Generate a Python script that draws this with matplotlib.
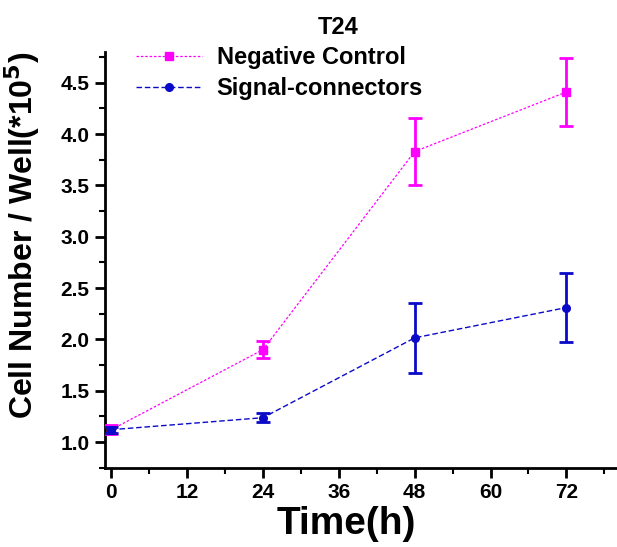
import matplotlib
matplotlib.use("Agg")
import matplotlib.pyplot as plt
from matplotlib.ticker import MultipleLocator
from matplotlib.lines import Line2D

# Дані з графіка
hours = [0, 24, 48, 72]
negControl = [1.12, 1.90, 3.83, 4.41]
negControlErr = [0.045, 0.08, 0.33, 0.33]
signalConn = [1.12, 1.237, 2.015, 2.31]
signalConnErr = [0.03, 0.045, 0.34, 0.335]
xTicks = [0, 12, 24, 36, 48, 60, 72]
yTicks = [1.0, 1.5, 2.0, 2.5, 3.0, 3.5, 4.0, 4.5]

magenta = "#FF00FF"
blue = "#0A0AC8"

plt.rcParams['font.family'] = ['Liberation Sans', 'DejaVu Sans']
plt.rcParams['font.weight'] = 'bold'
plt.rcParams['mathtext.default'] = 'bf'

fig = plt.figure(figsize=(6.17, 5.47), dpi=100)
ax = fig.add_axes([0.170, 0.145, 0.830, 0.760])

ncStyle = dict(color=magenta, marker='s', markersize=5.5, linestyle=(0, (2, 1.5)), linewidth=0.9)
scStyle = dict(color=blue, marker='o', markersize=5.5, linestyle=(0, (4, 2)), linewidth=1.0)

ax.errorbar(hours, negControl, yerr=negControlErr, elinewidth=2, capsize=5, capthick=2,
            zorder=3, **ncStyle)
ax.errorbar(hours, signalConn, yerr=signalConnErr, elinewidth=2, capsize=5, capthick=2,
            zorder=4, **scStyle)

ax.set_xlim(-1, 80)
ax.set_ylim(0.75, 4.8)
ax.set_xticks(xTicks)
ax.set_yticks(yTicks)
ax.xaxis.set_minor_locator(MultipleLocator(6))
ax.yaxis.set_minor_locator(MultipleLocator(0.25))
ax.set_yticklabels([f"{v:.1f}" for v in yTicks])

for side in ['top', 'right']:
    ax.spines[side].set_visible(False)
for side in ['left', 'bottom']:
    ax.spines[side].set_linewidth(2)

ax.tick_params(which='major', direction='out', length=7, width=2, labelsize=15, pad=4)
ax.tick_params(which='minor', direction='out', length=4, width=1.5)

ax.set_xlabel("Time(h)", fontsize=28, fontweight='bold')
ax.xaxis.set_label_coords((346 - 105) / 512, -0.092)
ax.set_ylabel("Cell Number / Well(*10$^{5}$)", fontsize=23, fontweight='bold')
ax.yaxis.set_label_coords(-0.122, 0.56)

fig.text(338 / 617, 1 - 27 / 547, "T24", ha='center', va='center', fontsize=17, fontweight='bold')

handles = [Line2D([], [], **ncStyle), Line2D([], [], **scStyle)]
ax.legend(handles, ['Negative Control', 'Signal-connectors'], loc='upper left',
          bbox_to_anchor=(0.02, 1.065), frameon=False, fontsize=17,
          handlelength=2.8, handletextpad=0.6, labelspacing=0.35)

fig.savefig("out.png", dpi=100)
